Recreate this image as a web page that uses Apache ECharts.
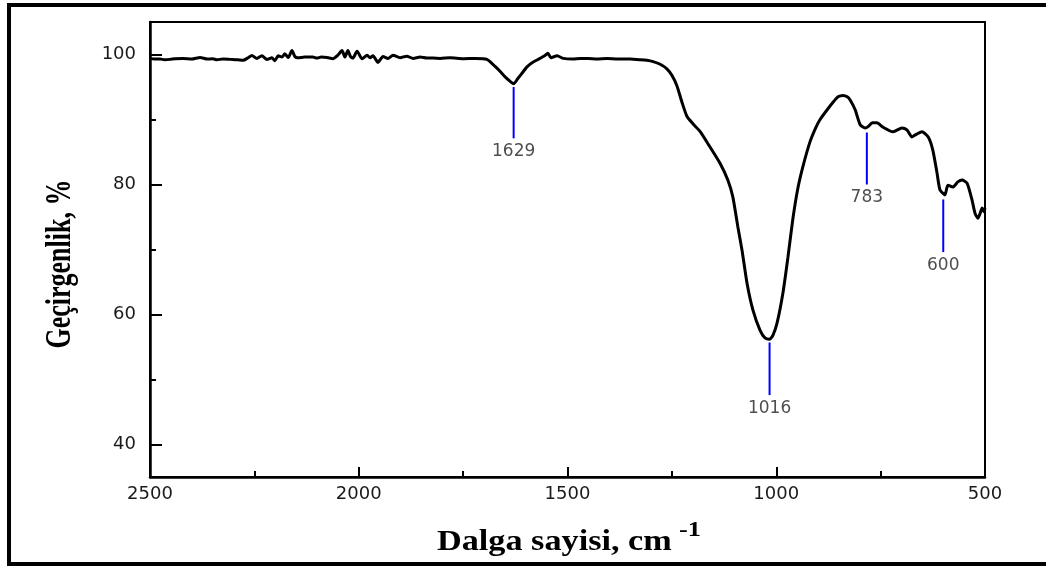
<!DOCTYPE html>
<html>
<head>
<meta charset="utf-8">
<script src="https://cdn.jsdelivr.net/npm/echarts@6/dist/echarts.min.js"></script>
<style>
html,body{margin:0;padding:0;background:#fff;}
#chart{width:1046px;height:566px;}
</style>
</head>
<body>
<div id="chart"></div>
<script>
// Wavenumber (cm^-1) and transmittance (%)
var wavenumbers = [2500,2490,2476,2465,2452,2440,2421,2400,2380,2363,2350,2340,2325,2308,2290,2277,2265,2256,2244,2232,2220,2208,2201,2193,2184,2177,2169,2160,2153,2146,2129,2110,2100,2090,2076,2062,2050,2040,2033,2026,2020,2014,2004,1992,1980,1973,1966,1954,1942,1930,1918,1901,1885,1870,1853,1837,1822,1805,1781,1750,1720,1693,1674,1660,1650,1638,1629,1619,1608,1597,1583,1566,1555,1547,1540,1535,1525,1510,1487,1470,1450,1430,1405,1380,1350,1326,1310,1295,1278,1262,1250,1238,1226,1214,1199,1183,1159,1135,1116,1104,1092,1082,1070,1056,1039,1027,1016,1008,998,984,972,960,948,936,919,905,895,878,862,852,840,830,823,811,799,787,780,770,759,744,720,699,687,675,668,651,636,625,615,608,596,589,577,565,555,543,531,524,517,512,507,503,500];
var transmittance = [99.4,99.3,99.3,99.2,99.25,99.35,99.4,99.3,99.55,99.3,99.35,99.2,99.3,99.25,99.2,99.1,99.5,99.85,99.4,99.8,99.25,99.5,99.05,99.8,99.6,100.1,99.55,100.6,99.7,99.5,99.6,99.6,99.45,99.6,99.55,99.35,99.9,100.6,99.6,100.6,99.7,99.45,100.5,99.35,99.9,99.5,99.8,98.8,99.7,99.4,99.9,99.5,99.75,99.4,99.6,99.45,99.45,99.4,99.5,99.35,99.4,99.25,98.2,97.3,96.6,95.9,95.5,96.3,97.2,98.1,98.8,99.4,99.8,100.2,99.5,99.6,99.8,99.4,99.3,99.4,99.4,99.3,99.4,99.3,99.3,99.2,99.1,98.9,98.5,97.8,96.8,95.2,92.7,90.5,89.3,88.2,85.8,83.3,80.7,78.1,73.5,69.9,64.8,60.7,57.6,56.4,56.2,56.8,58.7,63.3,68.8,74.8,79.5,82.8,86.6,88.8,90.0,91.5,92.8,93.5,93.7,93.5,93.0,91.5,89.2,88.7,88.9,89.5,89.5,88.8,88.1,88.7,88.4,87.3,87.6,88.1,87.3,85.3,81.8,79.2,78.4,79.9,79.6,80.4,80.7,80.2,77.6,75.6,74.8,75.5,76.4,75.8,76.4];

// Peak annotations
var peakWave = [1629, 1016, 783, 600];
var peakTop = [95.0, 55.7, 88.0, 77.7];
var peakBottom = [87.1, 47.6, 80.0, 69.6];
var peakLabels = ['1629', '1016', '783', '600'];

// Axis ticks
var xMin = 500, xMax = 2500, xStep = 500;
var yMin = 35, yMax = 105;
var yMajorTicks = [40, 60, 80, 100];
var yMinorTicks = [50, 70, 90];

var xTitle = 'Dalga sayisi, cm';
var xTitleSup = '-1';
var yTitle = 'Geçirgenlik, %';

var chart = echarts.init(document.getElementById('chart'), null, {renderer: 'canvas'});

var mainData = wavenumbers.map(function (w, i) { return [w, transmittance[i]]; });
var plain = function (v) { return String(v); };

var series = [{
  type: 'line',
  data: mainData,
  showSymbol: false,
  symbol: 'none',
  smooth: 0.2,
  lineStyle: {color: '#000', width: 3},
  z: 5,
  silent: true
}];

peakWave.forEach(function (w, i) {
  series.push({
    type: 'line',
    data: [[w, peakTop[i]], [w, peakBottom[i]]],
    symbol: 'none',
    lineStyle: {color: '#0000ff', width: 2},
    z: 4,
    silent: true
  });
  series.push({
    type: 'scatter',
    data: [[w, peakBottom[i]]],
    symbolSize: 0,
    itemStyle: {color: 'transparent'},
    label: {
      show: true,
      position: 'bottom',
      distance: 5,
      formatter: peakLabels[i],
      fontFamily: 'DejaVu Sans',
      fontSize: 17,
      color: '#222'
    },
    z: 4,
    silent: true
  });
});

var option = {
  backgroundColor: '#fff',
  animation: false,
  grid: {
    left: 150, right: 61, top: 22, bottom: 89,
    show: true, borderColor: '#000', borderWidth: 2, backgroundColor: 'transparent'
  },
  xAxis: {
    type: 'value',
    min: xMin, max: xMax, interval: xStep,
    inverse: true,
    axisLine: {show: true, lineStyle: {color: '#000', width: 2.5}},
    axisTick: {show: true, inside: true, length: 10, lineStyle: {color: '#000', width: 2}},
    minorTick: {show: true, splitNumber: 2, length: 6, lineStyle: {color: '#000', width: 2}},
    axisLabel: {
      show: true, margin: 8, fontFamily: 'DejaVu Sans', fontSize: 18, color: '#1a1a1a',
      showMinLabel: true, showMaxLabel: true, formatter: plain
    },
    splitLine: {show: false},
    minorSplitLine: {show: false}
  },
  yAxis: [{
    type: 'value',
    position: 'left',
    min: yMin, max: yMax,
    axisLine: {show: true, lineStyle: {color: '#000', width: 2.5}},
    axisTick: {show: true, inside: true, length: 12, customValues: yMajorTicks, lineStyle: {color: '#000', width: 2}},
    axisLabel: {show: true, margin: 14, customValues: yMajorTicks, fontFamily: 'DejaVu Sans', fontSize: 18, color: '#1a1a1a', formatter: plain},
    splitLine: {show: false}
  }, {
    type: 'value',
    position: 'left',
    offset: 0,
    min: yMin, max: yMax,
    axisLine: {show: false},
    axisTick: {show: true, inside: true, length: 6, customValues: yMinorTicks, lineStyle: {color: '#000', width: 2}},
    axisLabel: {show: false},
    splitLine: {show: false}
  }],
  series: series,
  graphic: [{
    type: 'rect',
    shape: {x: 9, y: 5, width: 1100, height: 559},
    style: {fill: 'none', stroke: '#000', lineWidth: 4},
    silent: true,
    z: 100
  }, {
    type: 'text',
    x: 61, y: 264,
    rotation: Math.PI / 2,
    scaleY: 1.35,
    style: {
      text: yTitle,
      font: 'bold 26px "Liberation Serif"',
      fill: '#000',
      textAlign: 'center', textVerticalAlign: 'middle',
      align: 'center', verticalAlign: 'middle'
    },
    silent: true
  }, {
    type: 'text',
    x: 437, y: 543,
    scaleX: 1.18,
    style: {
      text: xTitle,
      font: 'bold 29px "Liberation Serif"',
      fill: '#000',
      textAlign: 'left', textVerticalAlign: 'middle',
      align: 'left', verticalAlign: 'middle'
    },
    silent: true
  }, {
    type: 'text',
    x: 679, y: 530,
    scaleX: 1.2,
    style: {
      text: xTitleSup,
      font: 'bold 22px "Liberation Serif"',
      fill: '#000',
      textAlign: 'left', textVerticalAlign: 'middle',
      align: 'left', verticalAlign: 'middle'
    },
    silent: true
  }]
};

chart.setOption(option);
</script>
</body>
</html>
